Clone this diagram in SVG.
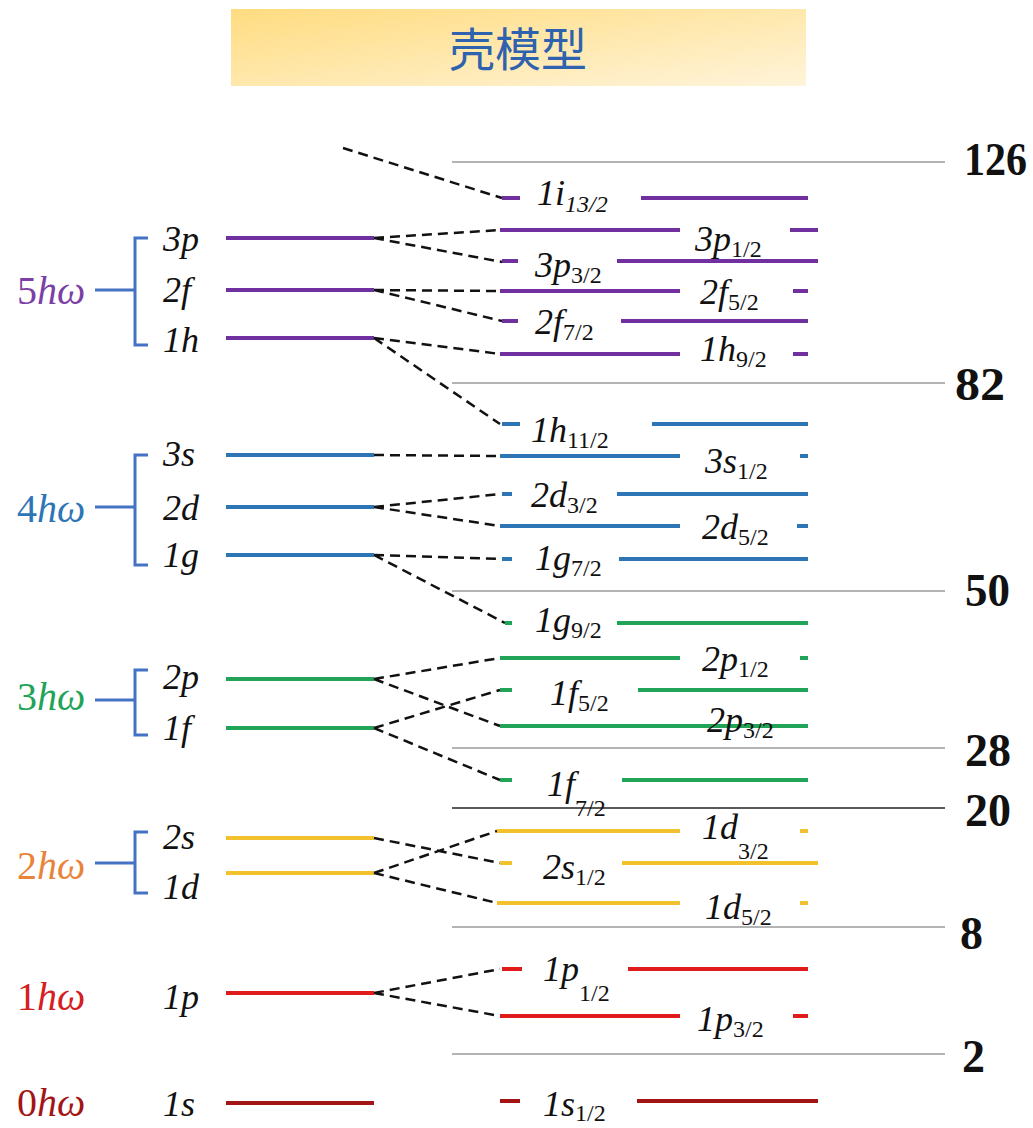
<svg xmlns="http://www.w3.org/2000/svg" width="1033" height="1128" viewBox="0 0 1033 1128" font-family="'Liberation Serif', 'Times New Roman', serif">
<defs>
<linearGradient id="tg" x1="0" y1="0" x2="1" y2="1">
<stop offset="0" stop-color="#FFDC80"/>
<stop offset="1" stop-color="#FFF4DA"/>
</linearGradient>
<style>
.lv{stroke-width:4;fill:none}
.pu{stroke:#7030A0}.bl{stroke:#2E75B6}.gr{stroke:#21A358}.ye{stroke:#F2C12E}.re{stroke:#E01B1B}.dr{stroke:#A31515}
.mg{stroke:#9A9A9A;stroke-width:1.5}
.cn{stroke:#111;stroke-width:2.5;stroke-dasharray:10 6;fill:none}
.br{stroke:#4472C4;stroke-width:3;fill:none}
.lb{font-style:italic;font-size:36px;fill:#111}
.sb{font-style:normal;font-size:24px}
.num{font-weight:bold;font-size:46px;fill:#111}
.hw{font-size:40px}
</style>
</defs>
<rect width="1033" height="1128" fill="#fff"/>
<g id="title">
<rect x="231" y="9" width="575" height="77" fill="url(#tg)"/>
<text x="518" y="66" text-anchor="middle" font-family="'Noto Sans CJK SC', sans-serif" font-size="46" fill="#2E62AE">壳模型</text>
</g>
<g id="magic">
<line class="mg" x1="452" y1="162" x2="945" y2="162"/><text class="num" x="964" y="175" textLength="63" lengthAdjust="spacingAndGlyphs">126</text>
<line class="mg" x1="452" y1="383" x2="945" y2="383"/><text class="num" x="955" y="400" textLength="50" lengthAdjust="spacingAndGlyphs">82</text>
<line class="mg" x1="452" y1="591" x2="945" y2="591"/><text class="num" x="965" y="606" textLength="45" lengthAdjust="spacingAndGlyphs">50</text>
<line class="mg" x1="452" y1="748" x2="945" y2="748"/><text class="num" x="965" y="766" textLength="46" lengthAdjust="spacingAndGlyphs">28</text>
<line x1="452" y1="808" x2="945" y2="808" stroke="#222" stroke-width="1.5"/><text class="num" x="965" y="826" textLength="46" lengthAdjust="spacingAndGlyphs">20</text>
<line class="mg" x1="452" y1="927" x2="945" y2="927"/><text class="num" x="960" y="949" textLength="23" lengthAdjust="spacingAndGlyphs">8</text>
<line class="mg" x1="452" y1="1054" x2="945" y2="1054"/><text class="num" x="962" y="1072" textLength="23" lengthAdjust="spacingAndGlyphs">2</text>
</g>
<g id="groups">
<text class="hw" x="17" y="304" fill="#7B3FA5">5<tspan font-style="italic">hω</tspan></text>
<path class="br" d="M95 290H135M148 238H135V345H148"/>
<text class="hw" x="17" y="522" fill="#2E75B6">4<tspan font-style="italic">hω</tspan></text>
<path class="br" d="M95 507H135M148 455H135V565H148"/>
<text class="hw" x="17" y="710" fill="#21A358">3<tspan font-style="italic">hω</tspan></text>
<path class="br" d="M95 700H135M148 670H135V735H148"/>
<text class="hw" x="17" y="879" fill="#E8843A">2<tspan font-style="italic">hω</tspan></text>
<path class="br" d="M95 863H135M148 832H135V893H148"/>
<text class="hw" x="17" y="1010" fill="#D42020">1<tspan font-style="italic">hω</tspan></text>
<text class="hw" x="17" y="1116" fill="#A31515">0<tspan font-style="italic">hω</tspan></text>
</g>
<g id="left-levels">
<text class="lb" x="163" y="251">3p</text><line class="lv pu" x1="226" y1="238" x2="374" y2="238"/>
<text class="lb" x="163" y="302">2f</text><line class="lv pu" x1="226" y1="290" x2="374" y2="290"/>
<text class="lb" x="163" y="352">1h</text><line class="lv pu" x1="226" y1="338" x2="374" y2="338"/>
<text class="lb" x="163" y="466">3s</text><line class="lv bl" x1="226" y1="455" x2="374" y2="455"/>
<text class="lb" x="163" y="520">2d</text><line class="lv bl" x1="226" y1="507" x2="374" y2="507"/>
<text class="lb" x="163" y="567">1g</text><line class="lv bl" x1="226" y1="555" x2="374" y2="555"/>
<text class="lb" x="163" y="689">2p</text><line class="lv gr" x1="226" y1="679" x2="374" y2="679"/>
<text class="lb" x="163" y="740">1f</text><line class="lv gr" x1="226" y1="728" x2="374" y2="728"/>
<text class="lb" x="163" y="849">2s</text><line class="lv ye" x1="226" y1="838" x2="374" y2="838"/>
<text class="lb" x="163" y="899">1d</text><line class="lv ye" x1="226" y1="873" x2="374" y2="873"/>
<text class="lb" x="163" y="1009">1p</text><line class="lv re" x1="226" y1="993" x2="374" y2="993"/>
<text class="lb" x="163" y="1116">1s</text><line class="lv dr" x1="226" y1="1103" x2="374" y2="1103"/>
</g>
<g id="connectors">
<path class="cn" d="M343 148L502 198"/>
<path class="cn" d="M374 238L500 230M374 238L502 262"/>
<path class="cn" d="M374 290L500 291M374 290L502 321"/>
<path class="cn" d="M374 338L500 354M374 338L500 424"/>
<path class="cn" d="M374 455L500 456"/>
<path class="cn" d="M374 507L500 494M374 507L500 526"/>
<path class="cn" d="M374 555L500 559M374 555L505 623"/>
<path class="cn" d="M374 679L500 658M374 679L500 726"/>
<path class="cn" d="M374 728L500 690M374 728L500 780"/>
<path class="cn" d="M374 838L500 863M374 873L497 831M374 873L497 903"/>
<path class="cn" d="M374 993L500 969M374 993L500 1016"/>
</g>
<g id="purple-levels">
<path class="lv pu" d="M502 198H520M641 198H808"/><text class="lb" x="537" y="205">1i<tspan class="sb" style="font-style:italic" dy="7">13/2</tspan></text>
<path class="lv pu" d="M500 230H680M790 230H818"/><text class="lb" x="695" y="251">3p<tspan class="sb" dy="6">1/2</tspan></text>
<path class="lv pu" d="M502 261H518M617 261H818"/><text class="lb" x="535" y="277">3p<tspan class="sb" dy="6">3/2</tspan></text>
<path class="lv pu" d="M500 291H680M793 291H808"/><text class="lb" x="700" y="304">2f<tspan class="sb" dy="6">5/2</tspan></text>
<path class="lv pu" d="M502 321H518M621 321H808"/><text class="lb" x="535" y="334">2f<tspan class="sb" dy="6">7/2</tspan></text>
<path class="lv pu" d="M500 354H680M793 354H808"/><text class="lb" x="700" y="361">1h<tspan class="sb" dy="6">9/2</tspan></text>
</g>
<g id="blue-levels">
<path class="lv bl" d="M502 424H520M652 424H808"/><text class="lb" x="531" y="442">1h<tspan class="sb" dy="6">11/2</tspan></text>
<path class="lv bl" d="M500 456H680M800 456H808"/><text class="lb" x="705" y="473">3s<tspan class="sb" dy="6">1/2</tspan></text>
<path class="lv bl" d="M502 494H512M617 494H808"/><text class="lb" x="531" y="507">2d<tspan class="sb" dy="6">3/2</tspan></text>
<path class="lv bl" d="M500 526H680M797 526H808"/><text class="lb" x="702" y="539">2d<tspan class="sb" dy="6">5/2</tspan></text>
<path class="lv bl" d="M502 559H512M619 559H808"/><text class="lb" x="535" y="570">1g<tspan class="sb" dy="6">7/2</tspan></text>
</g>
<g id="green-levels">
<path class="lv gr" d="M505 623H512M617 623H808"/><text class="lb" x="535" y="632">1g<tspan class="sb" dy="6">9/2</tspan></text>
<path class="lv gr" d="M500 658H680M800 658H808"/><text class="lb" x="702" y="671">2p<tspan class="sb" dy="6">1/2</tspan></text>
<path class="lv gr" d="M500 690H512M638 690H808"/><text class="lb" x="550" y="705">1f<tspan class="sb" dy="6">5/2</tspan></text>
<path class="lv gr" d="M500 726H808"/><text class="lb" x="707" y="732">2p<tspan class="sb" dy="6">3/2</tspan></text>
<path class="lv gr" d="M500 780H512M622 780H808"/><text class="lb" x="547" y="796">1f<tspan class="sb" dy="20">7/2</tspan></text>
</g>
<g id="yellow-levels">
<path class="lv ye" d="M497 831H680M800 831H808"/><text class="lb" x="702" y="839">1d<tspan class="sb" dy="20">3/2</tspan></text>
<path class="lv ye" d="M500 863H512M622 863H818"/><text class="lb" x="543" y="879">2s<tspan class="sb" dy="6">1/2</tspan></text>
<path class="lv ye" d="M497 903H680M800 903H808"/><text class="lb" x="705" y="919">1d<tspan class="sb" dy="6">5/2</tspan></text>
</g>
<g id="red-levels">
<path class="lv re" d="M502 969H522M628 969H808"/><text class="lb" x="543" y="981">1p<tspan class="sb" dy="20">1/2</tspan></text>
<path class="lv re" d="M500 1016H680M793 1016H808"/><text class="lb" x="697" y="1031">1p<tspan class="sb" dy="6">3/2</tspan></text>
<path class="lv dr" d="M500 1101H520M637 1101H818"/><text class="lb" x="543" y="1116">1s<tspan class="sb" dy="5">1/2</tspan></text>
</g>
</svg>
